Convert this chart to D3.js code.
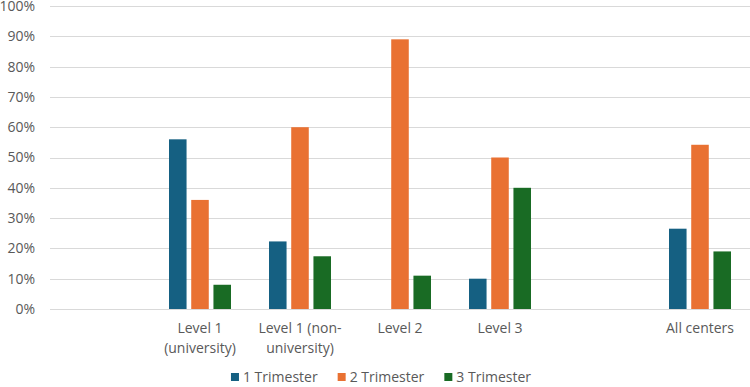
<!DOCTYPE html>
<html>
<head>
<meta charset="utf-8">
<script src="https://cdn.jsdelivr.net/npm/d3@7"></script>
<style>
  body { margin: 0; background: #fff; }
  svg text { font-family: "Open Sans", "Liberation Sans", Arial, sans-serif; fill: #595959; }
</style>
</head>
<body>
<div id="chart"></div>
<script>
// categories (empty slots are kept as blank columns, like in the original sheet)
const categories = ['', 'Level 1\n(university)', 'Level 1 (non-\nuniversity)', 'Level 2', 'Level 3', '', 'All centers']
const seriesNames = ['1 Trimester', '2 Trimester', '3 Trimester']
const trim1 = [null, 56, 22.3, 0, 10, null, 26.5]
const trim2 = [null, 36, 60, 89, 50, null, 54.2]
const trim3 = [null, 8, 17.4, 11, 40, null, 19]
const yTicks = [0, 10, 20, 30, 40, 50, 60, 70, 80, 90, 100]
const colors = ['#156082', '#E97132', '#196B24']

const width = 750, height = 387
const margin = { top: 6, right: 0, bottom: 78, left: 50 }
const innerW = width - margin.left - margin.right
const innerH = height - margin.top - margin.bottom

const svg = d3.select('#chart')
  .append('svg')
  .attr('width', width)
  .attr('height', height)

const g = svg.append('g')
  .attr('transform', `translate(${margin.left},${margin.top})`)

const x = d3.scaleBand()
  .domain(categories.map((d, i) => i))
  .range([0, innerW])

const y = d3.scaleLinear().domain([0, 100]).range([innerH, 0])

// inner scale for the 3 bars of a group
const xs = d3.scaleBand()
  .domain(seriesNames)
  .range([x.bandwidth() / 2 - 31, x.bandwidth() / 2 + 31])
  .paddingInner(0.21)

// gridlines
g.append('g')
  .selectAll('line')
  .data(yTicks)
  .join('line')
  .attr('x1', 0)
  .attr('x2', innerW)
  .attr('y1', d => Math.round(y(d)) + 0.5)
  .attr('y2', d => Math.round(y(d)) + 0.5)
  .attr('stroke', '#d9d9d9')
  .attr('stroke-width', 1)

// y labels
g.append('g')
  .selectAll('text')
  .data(yTicks)
  .join('text')
  .attr('x', -15)
  .attr('y', d => y(d))
  .attr('dy', '0.35em')
  .attr('text-anchor', 'end')
  .style('font-size', '14px')
  .text(d => d + '%')

// bars
const series = [trim1, trim2, trim3]
series.forEach((vals, s) => {
  g.append('g')
    .selectAll('rect')
    .data(vals.map((v, i) => ({ i, v })).filter(d => d.v !== null && d.v > 0))
    .join('rect')
    .attr('x', d => x(d.i) + xs(seriesNames[s]))
    .attr('y', d => y(d.v))
    .attr('width', xs.bandwidth())
    .attr('height', d => y(0) - y(d.v))
    .attr('fill', colors[s])
})

// category labels
const cat = g.append('g')
  .attr('transform', `translate(0,${innerH})`)
cat.selectAll('text')
  .data(categories.map((c, i) => ({ c, i })))
  .join('text')
  .attr('text-anchor', 'middle')
  .attr('x', d => x(d.i) + x.bandwidth() / 2)
  .attr('y', 24)
  .style('font-size', '14px')
  .each(function (d) {
    const lines = d.c.split('\n')
    d3.select(this).selectAll('tspan')
      .data(lines)
      .join('tspan')
      .attr('x', x(d.i) + x.bandwidth() / 2)
      .attr('dy', (l, k) => k === 0 ? 0 : 20)
      .text(l => l)
  })

// legend
const legend = svg.append('g')
  .attr('transform', `translate(0,${height - 5})`)
const items = legend.selectAll('g')
  .data(seriesNames)
  .join('g')
let lx = 0
items.each(function (d, i) {
  const it = d3.select(this)
  it.append('rect')
    .attr('x', 0).attr('y', -9)
    .attr('width', 8).attr('height', 8)
    .attr('fill', colors[i])
  const t = it.append('text')
    .attr('x', 12).attr('y', 0)
    .style('font-size', '14px')
    .text(d)
  it.attr('data-w', 12 + t.node().getComputedTextLength())
})
const gap = 20
const widths = items.nodes().map(n => +n.getAttribute('data-w'))
const total = d3.sum(widths) + gap * (widths.length - 1)
lx = 381 - total / 2
items.attr('transform', (d, i) => {
  const tx = lx
  lx += widths[i] + gap
  return `translate(${tx},0)`
})
</script>
</body>
</html>
